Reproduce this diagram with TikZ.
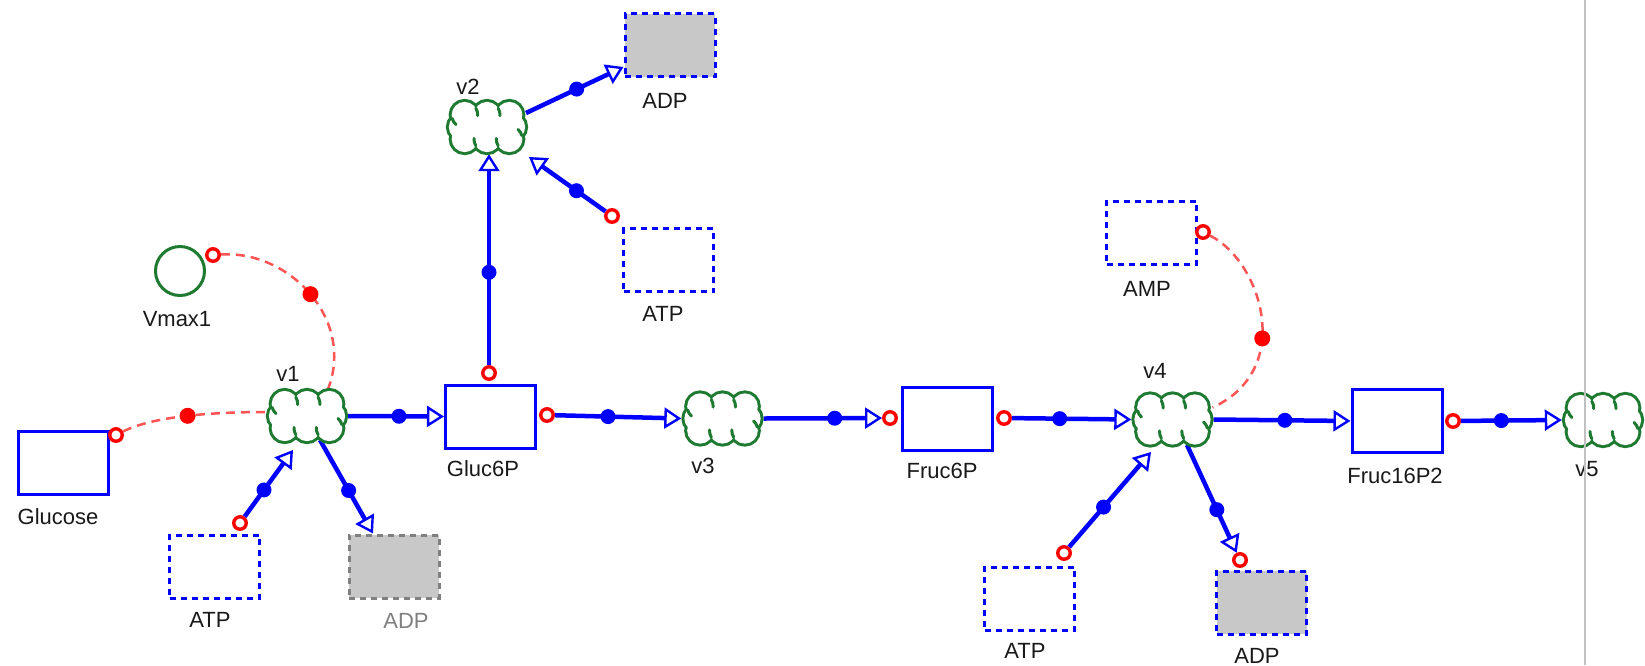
\documentclass[tikz,border=0pt]{standalone}
\usepackage{fontspec}
\setmainfont{Liberation Sans}
\usetikzlibrary{arrows.meta,calc}

\definecolor{sbblue}{RGB}{0,0,255}
\definecolor{sbgreen}{RGB}{30,122,48}
\definecolor{sbred}{RGB}{255,0,0}
\definecolor{sbdash}{RGB}{255,85,85}
\definecolor{sbfill}{RGB}{200,200,200}
\definecolor{sbedge}{RGB}{128,128,128}
\definecolor{sbtext}{RGB}{25,25,25}
\definecolor{sbrule}{RGB}{192,192,192}

\tikzset{
  species/.style={draw=sbblue, line width=3pt, fill=white,
    minimum width=90pt, minimum height=63pt, inner sep=0pt},
  hidden/.style={species, dash pattern=on 6pt off 5pt},
  sink/.style={hidden, fill=sbfill},
  greysink/.style={sink, draw=sbedge},
  param/.style={circle, draw=sbgreen, line width=3pt, fill=white,
    minimum size=49pt, inner sep=0pt},
  rxn/.style={minimum width=82pt, minimum height=54pt, inner sep=0pt},
  lbl/.style={font=\fontsize{22}{26}\selectfont, text=sbtext, inner sep=0pt,
    text height=16pt, text depth=0pt},
  ring/.style={circle, draw=sbred, line width=3.4pt, fill=white,
    minimum size=12.5pt, inner sep=0pt},
  bdot/.style={circle, fill=sbblue, minimum size=15pt, inner sep=0pt},
  rdot/.style={circle, fill=sbred, minimum size=16pt, inner sep=0pt},
  flow/.style={draw=sbblue, line width=4.5pt,
    -{Triangle[open, length=17pt, width=21pt, line width=2.4pt]}},
  modline/.style={draw=sbdash, line width=2.5pt, dash pattern=on 9pt off 6pt},
  pics/cloud/.style={code={
    \begin{scope}[scale=0.93]
    % outline: stroked lobes, then their interiors painted over
    \foreach \cx/\cy in {-24/13,0/13,24/13,-24/-13,0/-13,24/-13,-27/0,27/0}
      \draw[sbgreen, line width=6pt] (\cx,\cy) circle[radius=14pt];
    \foreach \cx/\cy in {-24/13,0/13,24/13,-24/-13,0/-13,24/-13,-27/0,27/0}
      \fill[white] (\cx,\cy) circle[radius=14pt];
    \fill[white] (-30,-13) rectangle (30,13);
    % short inner curls (arc angles are taken on the page, so y is mirrored)
    \begin{scope}[sbgreen, line width=3pt, line cap=round]
      \draw (-12,20.2) arc[start angle=-149, end angle=-183, radius=14pt];
      \draw (12,20.2) arc[start angle=-149, end angle=-183, radius=14pt];
      \draw (-12,-20.2) arc[start angle=31, end angle=-3, radius=14pt];
      \draw (12,-20.2) arc[start angle=31, end angle=-3, radius=14pt];
      \draw (-37.5,-9.27) arc[start angle=-164.5, end angle=-132, radius=14pt];
      \draw (37.5,9.27) arc[start angle=15.5, end angle=48, radius=14pt];
    \end{scope}
    \end{scope}
  }}
}

\begin{document}
\begin{tikzpicture}[x=1pt, y=-1pt]
\useasboundingbox (0,0) rectangle (1645,665);
\fill[white] (0,0) rectangle (1645,665);

% species
\node[species] (glc) at (63.5,463) {};
\node[species] (g6p) at (490.5,416.5) {};
\node[species] (f6p) at (947,419) {};
\node[species] (f16) at (1397,421) {};
\node[hidden] (atpA) at (214.5,566.5) {};
\node[greysink] (adpA) at (394,566.5) {};
\node[sink] (adpB) at (670,45) {};
\node[hidden] (atpB) at (668.5,260) {};
\node[hidden] (amp) at (1151.5,232.5) {};
\node[hidden] (atpC) at (1029.5,598.5) {};
\node[sink] (adpC) at (1261.5,602.5) {};
\node[param] (vmax) at (180,271) {};

% reactions
\node[rxn] (v1) at (307,416) {};
\node[rxn] (v2) at (487,127) {};
\node[rxn] (v3) at (722.5,418.5) {};
\node[rxn] (v4) at (1172.5,419.5) {};
\node[rxn] (v5) at (1603,420) {};

% labels
\node[lbl] (lvmax) at (177,318) {Vmax1};
\node[lbl] (lglc) at (58,516) {Glucose};
\node[lbl] (latpA) at (210,619) {ATP};
\node[lbl, text=sbedge] (ladpA) at (406,620) {ADP};
\node[lbl] (lv1) at (288,373) {v1};
\node[lbl] (lv2) at (468,86) {v2};
\node[lbl] (ladpB) at (665,100) {ADP};
\node[lbl] (latpB) at (663,313) {ATP};
\node[lbl] (lg6p) at (483,468) {Gluc6P};
\node[lbl] (lv3) at (703,465) {v3};
\node[lbl] (lf6p) at (942,470) {Fruc6P};
\node[lbl] (lamp) at (1147,288) {AMP};
\node[lbl] (lv4) at (1155,370) {v4};
\node[lbl] (latpC) at (1025,650) {ATP};
\node[lbl] (ladpC) at (1257,655) {ADP};
\node[lbl] (lf16) at (1395,475) {Fruc16P2};
\node[lbl] (lv5) at (1587,468) {v5};

% connection rings
\node[ring] (rG) at (116,435) {};
\node[ring] (rV) at (213,255) {};
\node[ring] (rA1) at (240,523) {};
\node[ring] (rG6up) at (489,373) {};
\node[ring] (rA2) at (612,216) {};
\node[ring] (rG6) at (547,415) {};
\node[ring] (rF6in) at (890,418) {};
\node[ring] (rF6) at (1004,418) {};
\node[ring] (rA4) at (1064,553) {};
\node[ring] (rD4) at (1240,560) {};
\node[ring] (rF16) at (1453,421) {};
\node[ring] (rAMP) at (1203,232) {};

% modifiers
\draw[modline] (rG) .. controls (150,418) and (200,412) .. ($(v1)+(-39,-4)$)
  node[rdot, pos=0.55] (mG) {};
\draw[modline] (rV) .. controls (290,250) and (355,320) .. ($(v1)+(21,-27)$)
  node[rdot, pos=0.5] (mV) {};
\draw[modline] (rAMP) .. controls (1262,262) and (1295,370) .. ($(v4)+(40,-12)$)
  node[rdot, pos=0.6] (mA) {};

% reaction flows
\draw[flow] (v1.east) -- node[bdot, pos=0.53] (d1) {} (g6p.west);
\draw[flow] (rA1) -- node[bdot, pos=0.4] (d2) {} ($(v1)+(-14,34)$);
\draw[flow] ($(v1)+(13,24)$) -- node[bdot, pos=0.54] (d3) {} ($(adpA.north)+(-21,0)$);
\draw[flow] (rG6up) -- node[bdot, pos=0.44] (d4) {} (v2.south -| rG6up);
\draw[flow] (rA2) -- node[bdot, pos=0.38] (d5) {} ($(v2)+(42,30)$);
\draw[flow] ($(v2)+(39,-14)$) -- node[bdot, pos=0.52] (d6) {} ($(adpB.west)+(0,22)$);
\draw[flow] (rG6) -- node[bdot, pos=0.42] (d7) {} (v3.west);
\draw[flow] (v3.east) -- node[bdot, pos=0.6] (d8) {} (rF6in);
\draw[flow] (rF6) -- node[bdot, pos=0.4] (d9) {} (v4.west);
\draw[flow] (rA4) -- node[bdot, pos=0.42] (d10) {} ($(v4)+(-21.5,32.5)$);
\draw[flow] ($(v4)+(14.5,25.5)$) -- node[bdot, pos=0.6] (d11) {} (rD4);
\draw[flow] (v4.east) -- node[bdot, pos=0.52] (d12) {} (f16.west);
\draw[flow] (rF16) -- node[bdot, pos=0.4] (d13) {} (v5.west);

% reaction glyphs
\foreach \r in {v1,v2,v3,v4,v5} \pic at (\r) {cloud};

% panel divider
\draw[sbrule, line width=2pt] (1585,0) -- (1585,665);
\end{tikzpicture}
\end{document}
